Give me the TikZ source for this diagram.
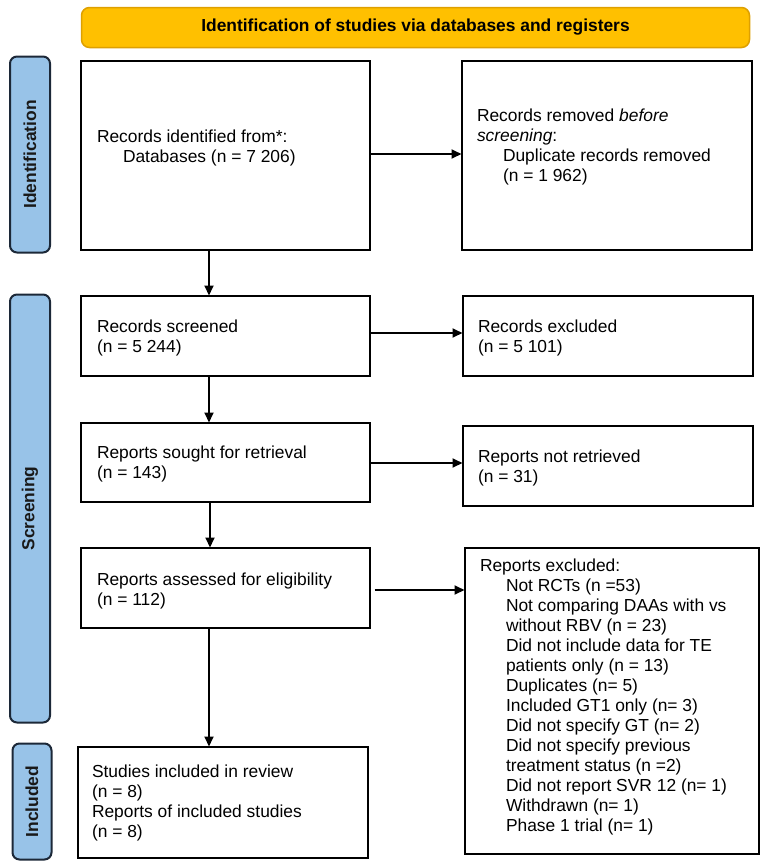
\documentclass[tikz,border=0pt]{standalone}
\usepackage{fontspec}
\setmainfont{Liberation Sans}
\usetikzlibrary{arrows.meta}
\definecolor{bannerfill}{RGB}{255,192,0}
\definecolor{bannerdraw}{RGB}{222,160,0}
\definecolor{sidefill}{RGB}{152,195,232}
\definecolor{sidedraw}{RGB}{28,40,56}
\tikzset{
  box/.style={draw=black, line width=2pt, fill=white, inner sep=0, outer sep=0},
  txt/.style={anchor=north west, inner sep=0, outer sep=0, align=left, font=\fontsize{17.4}{20}\selectfont},
  side/.style={draw=sidedraw, fill=sidefill, line width=2pt, rounded corners=7pt, inner sep=0, outer sep=0,
    minimum width=40pt},
  sidetxt/.style={inner sep=0, rotate=90, font=\fontsize{17.4}{20}\selectfont\bfseries, text=black!90},
  arr/.style={line width=1.8pt, -{Triangle[length=10pt,width=9pt]}}
}
\newcommand{\ind}{\hspace*{26pt}}
\begin{document}
\begin{tikzpicture}[x=1pt,y=-1pt]
\useasboundingbox (0,0) rectangle (770,868);
% banner
\node[draw=bannerdraw, fill=bannerfill, line width=1.5pt, rounded corners=8pt, minimum width=668pt, minimum height=40pt,
  inner sep=0, font=\fontsize{17.4}{20}\selectfont\bfseries] (banner) at (415.5,27.5) {Identification of studies via databases and registers};
% side labels
\node[side, minimum height=196pt] (sideid) at (30,154.5) {};
\node[sidetxt] (sideidt) at (sideid.center) {Identification};
\node[side, minimum height=428pt] (sidescr) at (30,508.5) {};
\node[sidetxt] (sidescrt) at (sidescr.center) {Screening};
\node[side, minimum width=39pt, minimum height=116pt] (sideinc) at (32,801.5) {};
\node[sidetxt] (sideinct) at (sideinc.center) {Included};
% boxes
\node[box, minimum width=289pt, minimum height=189pt] (ident) at (225,155) {};
\node[box, minimum width=290pt, minimum height=189pt] (removed) at (606.5,155) {};
\node[box, minimum width=289pt, minimum height=80pt] (screened) at (225,335.5) {};
\node[box, minimum width=290pt, minimum height=80pt] (excluded) at (607.5,335.5) {};
\node[box, minimum width=289pt, minimum height=79pt] (sought) at (225,462) {};
\node[box, minimum width=290pt, minimum height=80pt] (notret) at (607.5,465.5) {};
\node[box, minimum width=289pt, minimum height=80pt] (assessed) at (225,587.5) {};
\node[box, minimum width=294pt, minimum height=306pt] (rexcl) at (611.5,700.5) {};
\node[box, minimum width=290pt, minimum height=111pt] (incl) at (222.5,802) {};
% texts
\node[txt] (identt) at (97,128) {\strut Records identified from*:\\\ind Databases (n = 7 206)};
\node[txt] (removedt) at (477,107) {\strut Records removed \textit{before}\\\textit{screening}:\\\ind Duplicate records removed\\\ind (n = 1 962)};
\node[txt] (screenedt) at (97,318) {\strut Records screened\\(n = 5 244)};
\node[txt] (excludedt) at (478,318) {\strut Records excluded\\(n = 5 101)};
\node[txt] (soughtt) at (97,444) {\strut Reports sought for retrieval\\(n = 143)};
\node[txt] (notrett) at (478,448) {\strut Reports not retrieved\\(n = 31)};
\node[txt] (assessedt) at (97,571) {\strut Reports assessed for eligibility\\(n = 112)};
\node[txt] (rexclt) at (480,557) {\strut Reports excluded:\\
\ind Not RCTs (n =53)\\
\ind Not comparing DAAs with vs\\
\ind without RBV (n = 23)\\
\ind Did not include data for TE\\
\ind patients only (n = 13)\\
\ind Duplicates (n= 5)\\
\ind Included GT1 only (n= 3)\\
\ind Did not specify GT (n= 2)\\
\ind Did not specify previous\\
\ind treatment status (n =2)\\
\ind Did not report SVR 12 (n= 1)\\
\ind Withdrawn (n= 1)\\
\ind Phase 1 trial (n= 1)};
\node[txt] (inclt) at (92,763) {\strut Studies included in review\\(n = 8)\\Reports of included studies\\(n = 8)};
% connectors
\coordinate (ax) at (209,0);
\coordinate (bx) at (210,0);
\draw[arr] (ident.south -| ax) -- (screened.north -| ax);
\draw[arr] (screened.south -| ax) -- (sought.north -| ax);
\draw[arr] (sought.south -| bx) -- (assessed.north -| bx);
\draw[arr] (assessed.south -| ax) -- (incl.north -| ax);
\draw[arr] ([yshift=1pt]ident.east) -- ([yshift=1pt]ident.east -| removed.west);
\draw[arr] ([yshift=2.5pt]screened.east) -- ([yshift=2.5pt]screened.east -| excluded.west);
\draw[arr] ([yshift=-1pt]sought.east) -- ([yshift=-1pt]sought.east -| notret.west);
\draw[arr, shorten <=5pt] ([yshift=-2.5pt]assessed.east) -- ([yshift=-2.5pt]assessed.east -| rexcl.west);
\end{tikzpicture}
\end{document}
